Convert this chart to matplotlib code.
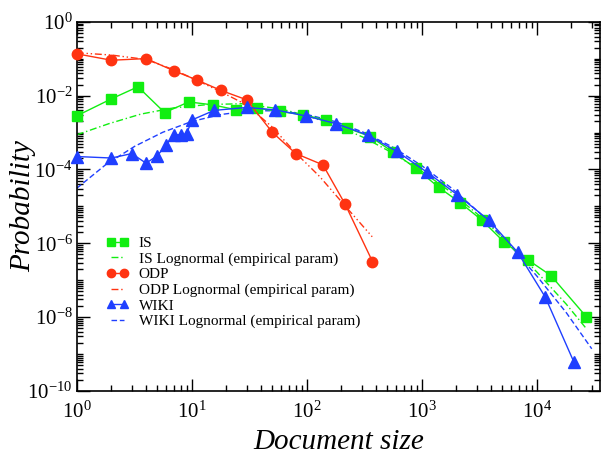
import matplotlib
matplotlib.use("Agg")
import matplotlib.pyplot as plt
from matplotlib.ticker import FixedLocator, FuncFormatter, NullFormatter
import numpy as np

plt.rcParams['font.family'] = ['Liberation Serif', 'DejaVu Serif']
plt.rcParams['mathtext.fontset'] = 'stix'
plt.rcParams['mathtext.default'] = 'regular'

# ---- data ----
is_x = [1, 2, 3.4, 5.8, 9.4, 15.2, 24, 37, 58, 93, 146, 225, 355, 566, 887,
        1396, 2153, 3330, 5200, 8360, 13250, 26900]
is_y = [2.84e-3, 8.2e-3, 0.0174, 3.47e-3, 6.76e-3, 5.62e-3, 4.17e-3, 4.57e-3,
        3.72e-3, 3.02e-3, 2.19e-3, 1.32e-3, 7.8e-4, 2.9e-4, 1.08e-4, 3.3e-5,
        1.26e-5, 4.2e-6, 1.07e-6, 3.55e-7, 1.33e-7, 1.02e-8]

is_ln_x = [1, 1.9, 3.6, 7, 14, 27, 59, 100, 180, 320, 560, 1000, 1800, 3200,
           5600, 10000, 18000, 27000]
is_ln_y = [8.7e-4, 1.74e-3, 3.16e-3, 4.68e-3, 5.75e-3, 6.03e-3, 4.37e-3,
           2.88e-3, 1.55e-3, 7.1e-4, 2.75e-4, 8.9e-5, 2.4e-5, 5.4e-6, 1.05e-6,
           1.66e-7, 2.24e-8, 4.8e-9]

odp_x = [1, 2, 4, 7, 11, 18, 30, 50, 80, 138, 215, 372]
odp_y = [0.136, 0.091, 0.101, 0.047, 0.0268, 0.0138, 0.0077, 1.02e-3, 2.7e-4,
         1.33e-4, 1.15e-5, 3.2e-7]

odp_ln_x = [1, 2, 4, 7, 11, 18, 30, 50, 80, 130, 210, 370]
odp_ln_y = [0.145, 0.126, 0.0955, 0.050, 0.0263, 0.0126, 5.6e-3, 1.41e-3,
            2.8e-4, 6.3e-5, 1.12e-5, 1.5e-6]

wiki_x = [1, 2, 3, 4, 5, 6, 7, 8, 9, 10, 15.6, 30, 53, 98, 180, 339, 606,
          1104, 2040, 3800, 6790, 11830, 20900]
wiki_y = [2.24e-4, 2.04e-4, 2.69e-4, 1.48e-4, 2.34e-4, 4.68e-4, 8.7e-4, 8.7e-4,
          9.1e-4, 2.19e-3, 3.98e-3, 4.79e-3, 4.12e-3, 2.82e-3, 1.74e-3, 8.5e-4,
          3.09e-4, 8.5e-5, 2.04e-5, 4.27e-6, 5.75e-7, 3.47e-8, 6.2e-10]

wiki_ln_x = [1, 1.8, 3.2, 5.6, 10, 18, 32, 56, 100, 180, 320, 560, 1000, 1800,
             3200, 5600, 10000, 18000, 30000]
wiki_ln_y = [3.1e-5, 1.38e-4, 4.27e-4, 1.02e-3, 2.0e-3, 3.09e-3, 3.89e-3,
             3.89e-3, 3.09e-3, 1.95e-3, 9.8e-4, 4.0e-4, 1.26e-4, 3.16e-5,
             6.5e-6, 1.02e-6, 1.29e-7, 1.32e-8, 1.38e-9]

labels = ["IS", "IS Lognormal (empirical param)",
          "ODP", "ODP Lognormal (empirical param)",
          "WIKI", "WIKI Lognormal (empirical param)"]

green = '#11ee11'
red = '#ff3311'
blue = '#1f3fff'

fig = plt.figure(figsize=(6.05, 4.55), dpi=100)
ax = fig.add_axes([0.127, 0.141, 0.865, 0.811])

ax.plot(is_x, is_y, color=green, lw=1.0, marker='s', ms=6.5, mec=green,
        mfc=green, label=labels[0], clip_on=False, zorder=3)
ax.plot(is_ln_x, is_ln_y, color=green, lw=1.0, ls=(0, (5, 2, 1, 2)),
        label=labels[1], zorder=2)
ax.plot(odp_x, odp_y, color=red, lw=1.0, marker='o', ms=7.5, mec=red,
        mfc=red, label=labels[2], clip_on=False, zorder=3)
ax.plot(odp_ln_x, odp_ln_y, color=red, lw=1.0, ls=(0, (5, 2, 1, 2, 1, 2)),
        label=labels[3], zorder=2)
ax.plot(wiki_x, wiki_y, color=blue, lw=1.0, marker='^', ms=8, mec=blue,
        mfc=blue, label=labels[4], clip_on=False, zorder=3)
ax.plot(wiki_ln_x, wiki_ln_y, color=blue, lw=1.0, ls=(0, (4, 2)),
        label=labels[5], zorder=2)

ax.set_xscale('log')
ax.set_yscale('log')
ax.set_xlim(1, 3.55e4)
ax.set_ylim(1e-10, 1)

xmaj = [1, 10, 100, 1000, 10000]
ymaj = [1e0, 1e-2, 1e-4, 1e-6, 1e-8, 1e-10]
ax.xaxis.set_major_locator(FixedLocator(xmaj))
ax.yaxis.set_major_locator(FixedLocator(ymaj))
xmin_t = [k * 10.0 ** e for e in range(0, 5) for k in range(2, 10)]
ymin_t = [k * 10.0 ** e for e in range(-10, 0) for k in range(1, 10)
          if not (k == 1 and e % 2 == 0)]
ax.xaxis.set_minor_locator(FixedLocator(xmin_t))
ax.yaxis.set_minor_locator(FixedLocator(ymin_t))
fmt = FuncFormatter(lambda v, p: r'$10^{%d}$' % int(round(np.log10(v))))
ax.xaxis.set_major_formatter(fmt)
ax.yaxis.set_major_formatter(fmt)
ax.xaxis.set_minor_formatter(NullFormatter())
ax.yaxis.set_minor_formatter(NullFormatter())

ax.tick_params(which='both', direction='in', top=True, right=True,
               width=1.0, labelsize=15)
ax.tick_params(which='major', length=9)
ax.tick_params(which='minor', length=4.5)
ax.tick_params(axis='x', which='major', pad=8)
ax.tick_params(axis='y', which='major', pad=3)
for s in ax.spines.values():
    s.set_linewidth(1.2)

ax.set_xlabel('Document size', fontsize=21, style='italic', labelpad=4)
ax.set_ylabel('Probability', fontsize=21, style='italic')
ax.yaxis.set_label_coords(-0.078, 0.5)

leg = ax.legend(loc='upper left', bbox_to_anchor=(0.045, 0.435), frameon=False,
                fontsize=11, numpoints=2, handlelength=1.45,
                handletextpad=0.65, labelspacing=0.12, borderaxespad=0,
                markerscale=0.8)

fig.savefig('out.png', dpi=100)
